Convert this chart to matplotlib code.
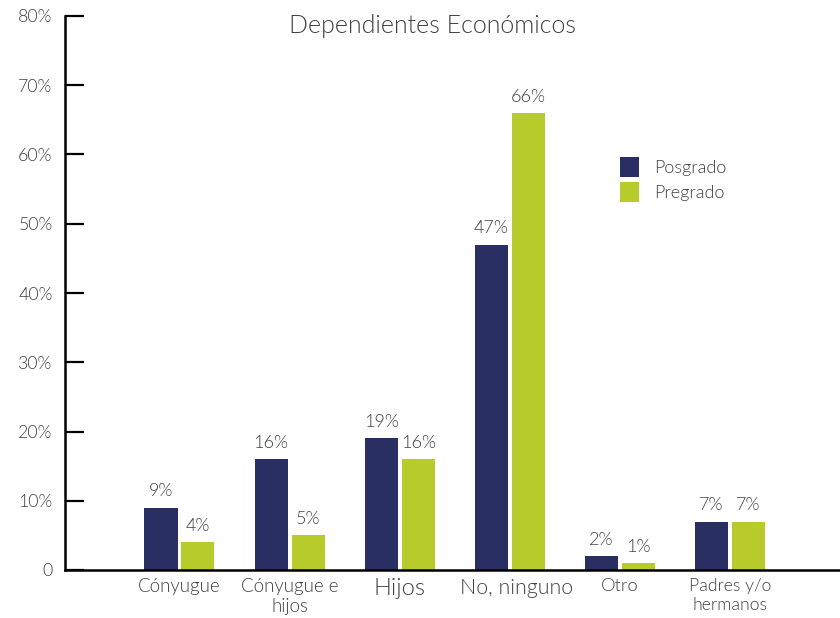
import numpy as np
import matplotlib.pyplot as plt
from matplotlib.ticker import FuncFormatter
from matplotlib.transforms import ScaledTranslation

# Data
categories = ['Cónyugue', 'Cónyugue e\nhijos', 'Hijos', 'No, ninguno', 'Otro', 'Padres y/o\nhermanos']
posgrado = [9, 16, 19, 47, 2, 7]
pregrado = [4, 5, 16, 66, 1, 7]
label_sizes = [13.5, 13.5, 17, 15.4, 13.2, 12.7]

navy = '#2a2f63'
green = '#b7cb2b'
text_grey = '#404040'
W = 300  # Lato Light

plt.rcParams['font.family'] = ['Lato', 'DejaVu Sans']
plt.rcParams['font.weight'] = W

fig = plt.figure(figsize=(8.4, 6.18), dpi=100)
ax = fig.add_axes([65 / 840, 48 / 618, 1 - 65 / 840, 554 / 618])

x = np.arange(len(categories))
w = 0.30
off = 0.168
b1 = ax.bar(x - off, posgrado, w, color=navy, label='Posgrado', zorder=2)
b2 = ax.bar(x + off, pregrado, w, color=green, label='Pregrado', zorder=2)

for bars in (b1, b2):
    ax.bar_label(bars, labels=[f'{v}%' for v in bars.datavalues], padding=6,
                 fontsize=13, color=text_grey, fontweight=W)

ax.set_ylim(0, 80)
ax.set_xlim(-1.04, 6.0)
ax.set_yticks(range(0, 81, 10))
ax.yaxis.set_major_formatter(FuncFormatter(lambda v, p: '0' if v == 0 else f'{int(v)}%'))
ax.tick_params(axis='y', direction='in', length=14, width=1.6, pad=9,
               labelsize=12.8, labelcolor=text_grey)
ax.set_xticks(x)
ax.set_xticklabels(categories)
ax.tick_params(axis='x', length=0, pad=6, labelcolor=text_grey)
for lab, s in zip(ax.get_xticklabels(), label_sizes):
    lab.set_fontsize(s)
    lab.set_fontweight(W)
for lab in ax.get_yticklabels():
    lab.set_fontweight(W)

# "No, ninguno" sits a little right of its bars in the original
lbl = ax.get_xticklabels()[3]
lbl.set_transform(lbl.get_transform() + ScaledTranslation(0.07, 0, fig.dpi_scale_trans))

for side in ['top', 'right']:
    ax.spines[side].set_visible(False)
for side in ['left', 'bottom']:
    ax.spines[side].set_linewidth(1.8)
    ax.spines[side].set_color('black')

ax.text(0.474, 1.003, 'Dependientes Económicos', transform=ax.transAxes,
        ha='center', va='top', fontsize=18, color=text_grey, fontweight=W)

leg = ax.legend(loc='upper left', bbox_to_anchor=(0.695, 0.775), frameon=False,
                prop={'size': 13, 'weight': W}, handlelength=1.05, handleheight=1.3,
                handletextpad=0.85, labelspacing=0.3)
for t in leg.get_texts():
    t.set_color(text_grey)

fig.savefig('out.png', dpi=100)
